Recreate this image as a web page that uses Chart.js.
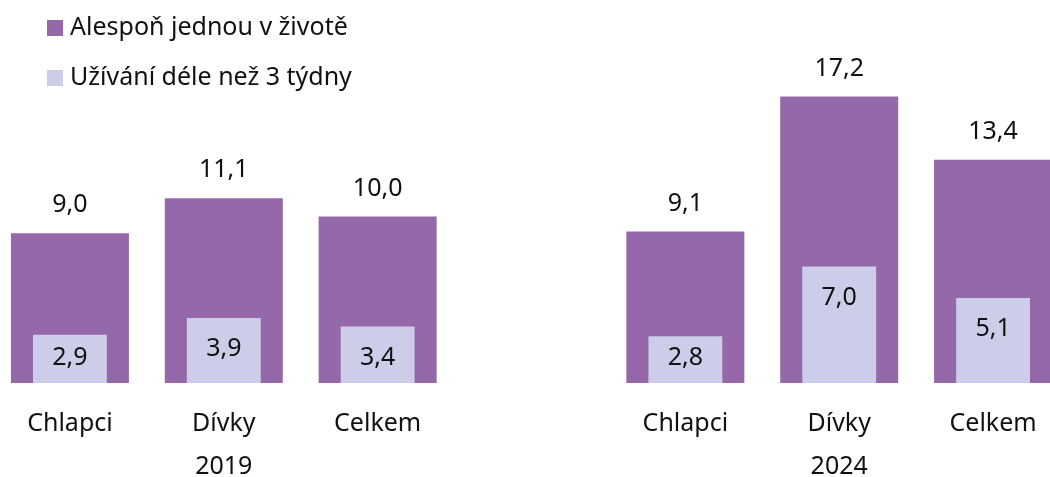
<!DOCTYPE html>
<html>
<head>
<meta charset="utf-8">
<script src="https://cdn.jsdelivr.net/npm/chart.js@4/dist/chart.umd.min.js"></script>
<style>
  body { margin: 0; background: #fff; }
  #wrap { width: 1050px; height: 477px; position: relative; }
</style>
</head>
<body>
<div id="wrap"><canvas id="chart"></canvas></div>
<script>
const categories = ['Chlapci', 'Dívky', 'Celkem'];
const years = ['2019', '2024'];
const seriesNames = ['Alespoň jednou v životě', 'Užívání déle než 3 týdny'];
const lifetime = [9.0, 11.1, 10.0, null, 9.1, 17.2, 13.4];
const overThreeWeeks = [2.9, 3.9, 3.4, null, 2.8, 7.0, 5.1];

const purple = '#9569a9';
const lilac = '#cdcdea';
const fontFamily = '"Noto Sans", "Open Sans", sans-serif';

// category labels, year under the middle one, empty slot between years
const labels = [];
years.forEach((year, yi) => {
  if (yi > 0) labels.push('');
  categories.forEach((c, ci) => labels.push(ci === 1 ? [c, year] : c));
});

const fmt = v => v.toFixed(1).replace('.', ',');

// the category axis runs a bit past both canvas edges in the original
const widenX = {
  id: 'widenX',
  afterLayout(chart) {
    const x = chart.scales.x;
    x.left = -7;
    x.right = 1070;
    x.width = x.right - x.left;
    x.configure();
  }
};

const valueLabels = {
  id: 'valueLabels',
  afterDatasetsDraw(chart) {
    const ctx = chart.ctx;
    ctx.save();
    ctx.font = '25px ' + fontFamily;
    ctx.fillStyle = '#111';
    ctx.textAlign = 'center';
    ctx.textBaseline = 'middle';
    chart.data.datasets.forEach((ds, di) => {
      const meta = chart.getDatasetMeta(di);
      meta.data.forEach((el, i) => {
        const v = ds.data[i];
        if (v == null) return;
        let y;
        if (di === 0) y = el.y - 28;
        else y = Math.min(el.y + 31, el.base - 25);
        ctx.fillText(fmt(v), el.x, y);
      });
    });
    ctx.restore();
  }
};

const boxLegend = {
  id: 'boxLegend',
  afterDraw(chart) {
    const ctx = chart.ctx;
    ctx.save();
    ctx.font = '25px ' + fontFamily;
    ctx.textBaseline = 'middle';
    ctx.textAlign = 'left';
    chart.data.datasets.forEach((ds, di) => {
      const cy = 28 + di * 50;
      ctx.fillStyle = ds.backgroundColor;
      ctx.fillRect(47, cy - 8, 16, 16);
      ctx.fillStyle = '#111';
      ctx.fillText(ds.label, 70, cy);
    });
    ctx.restore();
  }
};

new Chart(document.getElementById('chart'), {
  type: 'bar',
  data: {
    labels: labels,
    datasets: [
      {
        label: seriesNames[0],
        data: lifetime,
        backgroundColor: purple,
        barPercentage: 0.767,
        categoryPercentage: 1,
        grouped: false,
        order: 1
      },
      {
        label: seriesNames[1],
        data: overThreeWeeks,
        backgroundColor: lilac,
        barPercentage: 0.48,
        categoryPercentage: 1,
        grouped: false,
        order: 0
      }
    ]
  },
  options: {
    responsive: true,
    maintainAspectRatio: false,
    animation: false,
    plugins: {
      legend: { display: false },
      tooltip: { enabled: false }
    },
    scales: {
      x: {
        grid: { display: false, drawTicks: false },
        border: { display: false },
        ticks: {
          color: '#111',
          padding: 20,
          maxRotation: 0,
          autoSkip: false,
          font: { family: fontFamily, size: 25, lineHeight: 1.7 }
        },
        afterFit(axis) { axis.height = 94; }
      },
      y: {
        display: false,
        min: 0,
        max: 23
      }
    }
  },
  plugins: [widenX, valueLabels, boxLegend]
});
</script>
</body>
</html>
